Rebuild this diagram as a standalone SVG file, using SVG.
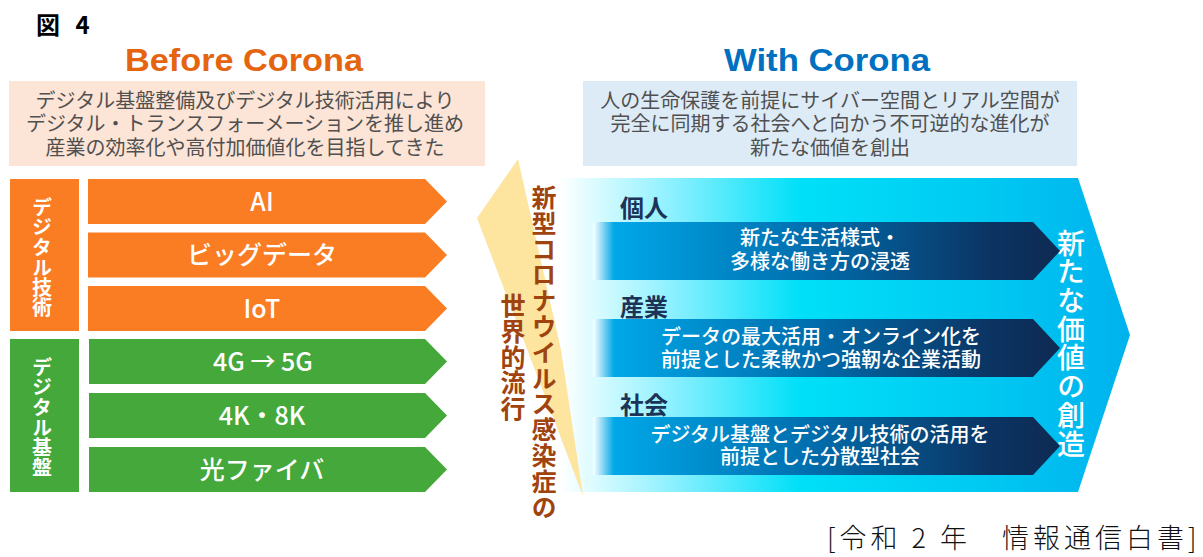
<svg xmlns="http://www.w3.org/2000/svg" width="1203" height="557" viewBox="0 0 1203 557">
<defs>
<style>
.jp{font-family:"Noto Sans CJK JP","Noto Sans",sans-serif;}
.en{font-family:"Liberation Sans",Arial,sans-serif;font-weight:bold;}
.desc{font-size:20px;fill:#505050;text-anchor:middle;font-weight:400;}
.bar{font-size:25px;fill:#fff;text-anchor:middle;font-weight:500;}
.vt{writing-mode:vertical-rl;}
.lab{font-size:20px;fill:#fff;font-weight:bold;}
.brown{font-size:25px;fill:#A0440F;font-weight:bold;letter-spacing:0.8px;}
.cat{font-size:24px;fill:#1C3358;font-weight:bold;}
.wt{font-size:20px;fill:#fff;text-anchor:middle;font-weight:500;}
.orange{fill:#FA7C23;}
.green{fill:#44A83A;}
</style>
<linearGradient id="cyanG" gradientUnits="userSpaceOnUse" x1="560" y1="0" x2="1130" y2="0">
<stop offset="0" stop-color="#FFFFFF"/>
<stop offset="0.08" stop-color="#CFFAFF"/>
<stop offset="0.2" stop-color="#8AF0FF"/>
<stop offset="0.42" stop-color="#00E0F8"/>
<stop offset="0.72" stop-color="#00CBF2"/>
<stop offset="1" stop-color="#00B2EE"/>
</linearGradient>
<linearGradient id="navyG" gradientUnits="objectBoundingBox" x1="0" y1="0" x2="1" y2="0">
<stop offset="0" stop-color="#FFFFFF"/>
<stop offset="0.045" stop-color="#00A8E8"/>
<stop offset="0.45" stop-color="#0070B0"/>
<stop offset="0.85" stop-color="#0B3463"/>
<stop offset="1" stop-color="#0E2A52"/>
</linearGradient>
</defs>
<rect width="1203" height="557" fill="#fff"/>

<g id="title">
<text class="jp" x="36" y="34" font-size="24" font-weight="bold" fill="#000" word-spacing="10">図 4</text>
</g>

<g id="before-header">
<text class="en" x="244" y="71" font-size="31" fill="#E5640F" text-anchor="middle" textLength="238" lengthAdjust="spacingAndGlyphs">Before Corona</text>
<rect x="9" y="81" width="476" height="85" fill="#FCE4D6"/>
<text class="jp desc" x="245" y="107.5">デジタル基盤整備及びデジタル技術活用により</text>
<text class="jp desc" x="245" y="131">デジタル・トランスフォーメーションを推し進め</text>
<text class="jp desc" x="245" y="154.5">産業の効率化や高付加価値化を目指してきた</text>
</g>

<g id="digital-tech">
<rect class="orange" x="10" y="179" width="69" height="152"/>
<text class="jp lab vt" x="42" y="197">デジタル技術</text>
</g>
<g id="ai">
<polygon class="orange" points="88,179 425,179 447,201.5 425,224 88,224"/>
<text class="jp bar" x="262" y="211">AI</text>
</g>
<g id="bigdata">
<polygon class="orange" points="88,232.5 425,232.5 447,255 425,277.5 88,277.5"/>
<text class="jp bar" x="262" y="264">ビッグデータ</text>
</g>
<g id="iot">
<polygon class="orange" points="88,286 425,286 447,308.5 425,331 88,331"/>
<text class="jp bar" x="262" y="317.5">IoT</text>
</g>

<g id="digital-infra">
<rect class="green" x="10" y="339" width="69" height="153"/>
<text class="jp lab vt" x="42" y="357">デジタル基盤</text>
</g>
<g id="5g">
<polygon class="green" points="89,339 425,339 447,361.5 425,384 89,384"/>
<text class="jp bar" x="263" y="370.5">4G → 5G</text>
</g>
<g id="4k8k">
<polygon class="green" points="89,393 425,393 447,415.5 425,438 89,438"/>
<text class="jp bar" x="262" y="424.5">4K・8K</text>
</g>
<g id="fiber">
<polygon class="green" points="89,447 425,447 447,469.5 425,492 89,492"/>
<text class="jp bar" x="262" y="478.5">光ファイバ</text>
</g>

<g id="with-header">
<text class="en" x="827" y="71" font-size="31" fill="#0070C0" text-anchor="middle" textLength="206" lengthAdjust="spacingAndGlyphs">With Corona</text>
<rect x="583" y="81" width="494" height="85" fill="#DDEBF7"/>
<text class="jp desc" x="830" y="107.5">人の生命保護を前提にサイバー空間とリアル空間が</text>
<text class="jp desc" x="830" y="131">完全に同期する社会へと向かう不可逆的な進化が</text>
<text class="jp desc" x="830" y="154.5">新たな価値を創出</text>
</g>

<g id="with-corona-area">
<polygon points="560,178 1078,178 1130,335 1078,492 560,492" fill="url(#cyanG)"/>
<text class="jp vt" x="1071" y="229" font-size="28" font-weight="500" fill="#fff" letter-spacing="0.7">新たな価値の創造</text>
</g>

<g id="individual">
<text class="jp cat" x="620" y="217">個人</text>
<polygon points="593,222 1033,222 1060,251 1033,280 593,280" fill="url(#navyG)"/>
<text class="jp wt" x="820" y="245">新たな生活様式・</text>
<text class="jp wt" x="820" y="269">多様な働き方の浸透</text>
</g>
<g id="industry">
<text class="jp cat" x="620" y="316">産業</text>
<polygon points="593,319 1033,319 1060,348 1033,377 593,377" fill="url(#navyG)"/>
<text class="jp wt" x="821" y="344">データの最大活用・オンライン化を</text>
<text class="jp wt" x="821" y="367">前提とした柔軟かつ強靭な企業活動</text>
</g>
<g id="society">
<text class="jp cat" x="620" y="414">社会</text>
<polygon points="593,417 1033,417 1060,446 1033,475 593,475" fill="url(#navyG)"/>
<text class="jp wt" x="820" y="442">デジタル基盤とデジタル技術の活用を</text>
<text class="jp wt" x="820" y="464">前提とした分散型社会</text>
</g>

<g id="pandemic">
<polygon points="518,159 477,218 583,496 561,350" fill="#FDE59F"/>
<text class="jp brown vt" x="544" y="185">新型コロナウイルス感染症の</text>
<text class="jp brown vt" x="513" y="293">世界的流行</text>
</g>

<g id="source">
<text class="jp" x="827" y="548" font-size="27" font-weight="300" fill="#111" letter-spacing="4">[令和 2 年　情報通信白書]</text>
</g>
</svg>
